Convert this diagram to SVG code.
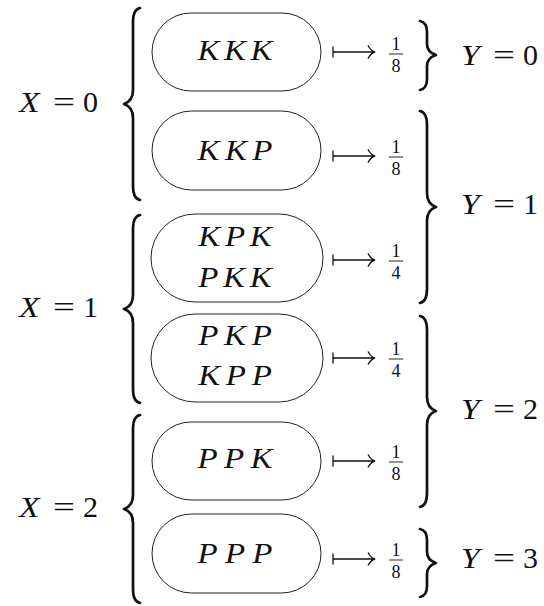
<svg xmlns="http://www.w3.org/2000/svg" xmlns:xlink="http://www.w3.org/1999/xlink" width="544" height="606" viewBox="0 0 544 606">
<style>
.box{fill:none;stroke:#222;stroke-width:1}
.lbl{font-family:"Liberation Serif",serif;font-style:italic;font-size:30px;fill:#111;text-anchor:middle}
.it{font-family:"Liberation Serif",serif;font-style:italic;font-size:30px;fill:#111}
.rm{font-family:"Liberation Serif",serif;font-size:30px;fill:#111}
.fr{font-family:"Liberation Serif",serif;font-size:18px;fill:#111;text-anchor:middle}
.brace{fill:none;stroke:#111;stroke-width:2.7;stroke-linecap:round;stroke-linejoin:round}
.arr{fill:none;stroke:#111;stroke-width:1.3}
.bar{stroke:#111;stroke-width:0.9}
</style>
<defs>
<path id="mapsto" class="arr" d="M0,-5.5 V5.5 M0,0 H42 M35,-6.5 Q38,-1 42,0 Q38,1 35,6.5"/>
</defs>
<g id="braces">
<path class="brace" d="M140,8 C135,9 133,13 133,22 L133,90 C133,98 130,102 124,104 C130,106 133,110 133,118 L133,186 C133,195 135,199 140,200"/>
<path class="brace" d="M140,215 C135,216 133,220 133,229 L133,295 C133,303 130,307 124,309 C130,311 133,315 133,323 L133,389 C133,398 135,402 140,403"/>
<path class="brace" d="M140,415 C135,416 133,420 133,429 L133,495 C133,503 130,507 124,509 C130,511 133,515 133,523 L133,589 C133,598 135,602 140,603"/>
<path class="brace" d="M420,21 C425,22 427,26 427,32 L427,44 C427,50 430,53 436,55 C430,57 427,60 427,66 L427,79 C427,85 425,89 420,90"/>
<path class="brace" d="M420,111 C425,112 427,116 427,125 L427,193 C427,201 430,205 436,207 C430,209 427,213 427,221 L427,289 C427,298 425,302 420,303"/>
<path class="brace" d="M420,316 C425,317 427,321 427,330 L427,397 C427,405 430,409 436,411 C430,413 427,417 427,425 L427,493 C427,502 425,506 420,507"/>
<path class="brace" d="M420,529 C425,530 427,534 427,540 L427,552 C427,558 430,561 436,563 C430,565 427,568 427,574 L427,586 C427,592 425,596 420,597"/>
</g>
<g id="x-labels">
<g id="x0"><text class="it" transform="translate(19,112) scale(1.12,1)">X</text><text class="rm" x="53" y="112" textLength="22" lengthAdjust="spacingAndGlyphs">=</text><text class="rm" x="83" y="112">0</text></g>
<g id="x1"><text class="it" transform="translate(19,317) scale(1.12,1)">X</text><text class="rm" x="53" y="317" textLength="22" lengthAdjust="spacingAndGlyphs">=</text><text class="rm" x="83" y="317">1</text></g>
<g id="x2"><text class="it" transform="translate(19,517) scale(1.12,1)">X</text><text class="rm" x="53" y="517" textLength="22" lengthAdjust="spacingAndGlyphs">=</text><text class="rm" x="83" y="517">2</text></g>
</g>
<g id="n-kkk"><rect class="box" x="152" y="13" width="169" height="78" rx="39"/><text class="lbl" transform="translate(235,60) scale(1.1,1)" textLength="68" lengthAdjust="spacing">KKK</text></g>
<g id="n-kkp"><rect class="box" x="152" y="111" width="169" height="79" rx="39.5"/><text class="lbl" transform="translate(235,160) scale(1.1,1)" textLength="68" lengthAdjust="spacing">KKP</text></g>
<g id="n-kpk-pkk"><rect class="box" x="151" y="214" width="172" height="88" rx="44"/><text class="lbl" transform="translate(235,246) scale(1.1,1)" textLength="67" lengthAdjust="spacing">KPK</text><text class="lbl" transform="translate(235,287) scale(1.1,1)" textLength="67" lengthAdjust="spacing">PKK</text></g>
<g id="n-pkp-kpp"><rect class="box" x="151" y="314" width="172" height="88" rx="44"/><text class="lbl" transform="translate(235,345) scale(1.1,1)" textLength="67" lengthAdjust="spacing">PKP</text><text class="lbl" transform="translate(235,385) scale(1.1,1)" textLength="67" lengthAdjust="spacing">KPP</text></g>
<g id="n-ppk"><rect class="box" x="152" y="422" width="169" height="78" rx="39"/><text class="lbl" transform="translate(235,468) scale(1.1,1)" textLength="68" lengthAdjust="spacing">PPK</text></g>
<g id="n-ppp"><rect class="box" x="152" y="514" width="169" height="79" rx="39.5"/><text class="lbl" transform="translate(235,563) scale(1.1,1)" textLength="68" lengthAdjust="spacing">PPP</text></g>
<g id="connectors">
<use href="#mapsto" x="333" y="52"/>
<use href="#mapsto" x="333" y="156"/>
<use href="#mapsto" x="333" y="260"/>
<use href="#mapsto" x="333" y="358"/>
<use href="#mapsto" x="333" y="461"/>
<use href="#mapsto" x="333" y="559"/>
</g>
<g id="fractions">
<g id="f1"><text class="fr" x="396" y="50">1</text><line class="bar" x1="389" y1="54" x2="403" y2="54"/><text class="fr" x="396" y="72">8</text></g>
<g id="f2"><text class="fr" x="396" y="153">1</text><line class="bar" x1="389" y1="157" x2="403" y2="157"/><text class="fr" x="396" y="175">8</text></g>
<g id="f3"><text class="fr" x="396" y="257">1</text><line class="bar" x1="389" y1="261" x2="403" y2="261"/><text class="fr" x="396" y="279">4</text></g>
<g id="f4"><text class="fr" x="396" y="355">1</text><line class="bar" x1="389" y1="359" x2="403" y2="359"/><text class="fr" x="396" y="377">4</text></g>
<g id="f5"><text class="fr" x="396" y="458">1</text><line class="bar" x1="389" y1="462" x2="403" y2="462"/><text class="fr" x="396" y="480">8</text></g>
<g id="f6"><text class="fr" x="396" y="556">1</text><line class="bar" x1="389" y1="560" x2="403" y2="560"/><text class="fr" x="396" y="578">8</text></g>
</g>
<g id="y-labels">
<g id="y0"><text class="it" transform="translate(461,65) scale(1.12,1)">Y</text><text class="rm" x="493" y="65" textLength="22" lengthAdjust="spacingAndGlyphs">=</text><text class="rm" x="523" y="65">0</text></g>
<g id="y1"><text class="it" transform="translate(461,214) scale(1.12,1)">Y</text><text class="rm" x="493" y="214" textLength="22" lengthAdjust="spacingAndGlyphs">=</text><text class="rm" x="523" y="214">1</text></g>
<g id="y2"><text class="it" transform="translate(461,419) scale(1.12,1)">Y</text><text class="rm" x="493" y="419" textLength="22" lengthAdjust="spacingAndGlyphs">=</text><text class="rm" x="523" y="419">2</text></g>
<g id="y3"><text class="it" transform="translate(461,568) scale(1.12,1)">Y</text><text class="rm" x="493" y="568" textLength="22" lengthAdjust="spacingAndGlyphs">=</text><text class="rm" x="523" y="568">3</text></g>
</g>
</svg>
